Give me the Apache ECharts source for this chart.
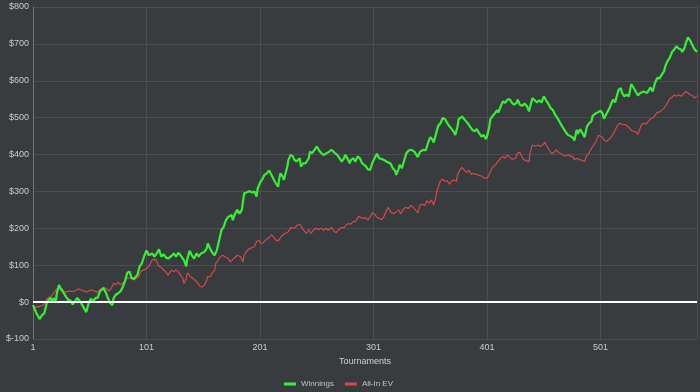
<!DOCTYPE html>
<html>
<head>
<meta charset="utf-8">
<script src="https://cdn.jsdelivr.net/npm/echarts@6/dist/echarts.min.js"></script>
<style>
html,body{margin:0;padding:0;background:#393c3f;}
#chart{width:700px;height:392px;}
</style>
</head>
<body>
<div id="chart"></div>
<script>
// [tournament, dollars]
const winnings = [
[1,-8],[4,-30],[7,-46],[9,-35],[11,-30],[13,-3],[15,6],[16,12],[18,2],[19,11],[21,2],[22,24],[24,47],[25,38],[27,30],[30,15],[32,6],[34,4],[36,-6],[38,2],[40,11],[43,0],[46,-17],[48,-27],[50,-3],[52,9],[54,2],[56,11],[58,12],[60,29],[63,38],[65,27],[67,11],[69,-3],[71,-8],[72,11],[74,20],[76,24],[78,29],[80,40],[82,56],[84,79],[86,83],[88,65],[90,63],[93,74],[95,97],[97,106],[99,125],[101,140],
[103,127],[106,132],[108,123],[110,132],[112,143],[114,123],[116,130],[118,121],[120,118],[123,125],[125,132],[127,123],[129,134],[131,127],[134,114],[136,97],[137,118],[139,139],[141,127],[143,118],[145,132],[147,123],[149,132],[152,136],[154,145],[155,159],[157,145],[159,134],[161,127],[163,141],[165,168],[167,195],[169,204],[171,222],[173,231],[176,236],[177,222],[179,240],[181,250],[183,240],[185,250],[187,295],[189,297],[192,301],[194,297],[196,300],[198,286],[199,309],
[201,324],[203,333],[205,345],[207,349],[209,357],[211,345],[213,333],[215,322],[217,313],[218,336],[219,349],[221,340],[222,331],[225,367],[226,385],[228,399],[230,395],[231,387],[233,381],[236,390],[237,367],[239,376],[241,376],[244,390],[245,408],[247,404],[249,413],[251,422],[253,411],[255,404],[257,399],[258,395],[260,404],[262,408],[264,413],[267,404],[269,399],[271,390],[273,381],[275,390],[276,399],[278,390],[280,376],[281,385],[283,390],[285,381],[287,395],[289,390],[291,376],[294,369],[296,360],[298,358],[300,378],
[302,390],[304,402],[306,390],[307,395],[309,387],[311,384],[314,378],[316,376],[318,363],[320,356],[321,345],[323,360],[324,372],[326,363],[328,384],[330,404],[332,411],[334,413],[337,408],[338,404],[340,393],[342,408],[345,413],[347,411],[349,431],[351,447],[353,440],[354,433],[357,467],[358,478],[360,485],[362,499],[364,496],[366,485],[368,476],[370,469],[372,460],[373,453],[375,476],[376,496],[379,503],[380,508],[382,492],[384,485],[386,476],[388,467],[390,463],[392,469],[394,458],[396,449],[398,453],[400,442],
[401,449],[403,476],[404,496],[406,505],[408,512],[410,520],[411,514],[413,530],[415,544],[417,540],[419,549],[421,550],[423,540],[425,535],[427,540],[428,549],[430,535],[432,532],[434,538],[436,532],[438,517],[439,530],[441,553],[443,547],[445,541],[447,547],[449,541],[451,558],[453,547],[455,538],[457,526],[459,521],[461,508],[464,494],[466,483],[468,472],[470,463],[472,454],[475,449],[477,445],[478,438],[480,467],[481,456],[483,469],[485,458],[487,447],[489,476],[491,485],[493,490],[494,505],[497,512],[499,515],
[501,519],[503,510],[504,497],[507,515],[509,526],[510,535],[512,549],[514,542],[515,555],[517,576],[519,580],[520,567],[522,558],[524,562],[526,558],[528,591],[530,582],[532,571],[534,560],[536,567],[537,562],[539,571],[542,567],[543,562],[545,582],[547,571],[549,594],[551,608],[553,606],[554,612],[557,626],[558,639],[560,653],[562,662],[564,678],[566,685],[568,694],[570,687],[572,685],[573,678],[575,689],[576,700],[578,718],[580,709],[582,696],[584,685],[586,678]
];
const allInEV = [
[1,-8],[3,-15],[5,-12],[7,-12],[10,-8],[12,2],[14,11],[15,6],[17,15],[19,24],[21,33],[24,40],[26,38],[28,30],[30,27],[33,30],[35,29],[38,30],[41,36],[43,33],[46,30],[48,27],[50,30],[52,33],[55,30],[57,27],[59,30],[61,36],[63,40],[66,36],[68,30],[70,38],[72,51],[74,47],[76,54],[78,47],[80,51],[82,58],[84,65],[87,65],[90,60],[92,65],[94,69],[96,83],[99,88],
[101,91],[103,97],[106,114],[107,112],[109,116],[112,97],[114,94],[116,87],[118,82],[120,73],[123,87],[125,82],[127,88],[129,82],[131,73],[133,64],[134,50],[136,64],[137,79],[140,68],[142,64],[144,59],[146,52],[148,43],[150,41],[152,46],[154,59],[155,70],[157,68],[159,79],[161,87],[162,105],[164,114],[166,123],[168,127],[170,123],[173,118],[175,109],[177,116],[179,121],[181,127],[184,123],[186,109],[187,127],[190,141],[192,145],[194,148],[196,150],[198,164],
[200,168],[202,159],[204,161],[206,168],[209,175],[211,182],[213,177],[215,168],[217,166],[219,175],[221,182],[223,186],[226,191],[228,202],[229,206],[231,200],[234,209],[236,211],[238,202],[240,193],[242,186],[244,197],[246,186],[248,195],[250,200],[253,197],[255,200],[257,195],[259,200],[261,195],[264,202],[266,193],[268,188],[270,195],[273,202],[275,202],[277,209],[279,213],[281,211],[283,218],[285,218],[288,233],[290,229],[292,227],[294,229],[296,222],[298,231],[300,242],
[302,238],[304,230],[306,227],[308,224],[310,231],[312,245],[314,257],[316,245],[318,240],[320,242],[323,250],[325,239],[327,250],[329,257],[332,254],[334,263],[336,257],[338,250],[340,242],[342,263],[344,266],[346,261],[348,275],[350,268],[352,277],[354,263],[356,286],[357,304],[358,311],[360,329],[362,333],[364,327],[366,329],[368,320],[370,329],[372,331],[374,327],[375,345],[377,358],[379,365],[381,358],[383,351],[385,358],[387,347],[389,349],[391,347],[393,345],[396,342],[398,338],[400,335],
[402,340],[404,354],[406,366],[409,374],[411,383],[413,390],[415,395],[417,390],[419,399],[421,393],[423,387],[426,390],[428,404],[430,406],[431,399],[433,387],[436,383],[438,381],[439,406],[441,426],[444,423],[446,426],[448,422],[450,426],[452,433],[454,422],[456,411],[458,402],[460,406],[462,413],[464,406],[466,402],[468,399],[470,396],[473,399],[475,395],[477,393],[478,386],[480,390],[482,387],[485,384],[487,381],[489,399],[491,404],[493,417],[495,426],[497,435],[499,452],
[502,449],[504,440],[506,435],[508,440],[510,446],[512,455],[514,467],[516,479],[518,485],[520,482],[523,481],[525,476],[527,470],[529,464],[532,461],[534,455],[535,464],[537,481],[539,485],[541,482],[543,490],[545,497],[547,499],[549,506],[551,515],[553,515],[554,519],[557,526],[559,535],[560,539],[562,551],[564,555],[566,562],[568,558],[570,562],[572,558],[574,564],[576,571],[578,567],[580,562],[582,560],[584,553],[586,560]
];
const firstTournament = 1;
const lastTournament = 586;
const yMin = -100, yMax = 800, yStep = 100;
const seriesNames = ['Winnings', 'All-In EV'];

// x axis runs in (tournament - 1) so ticks fall on 1, 101, 201 ...
const toX = p => [p[0] - firstTournament, p[1]];

const chart = echarts.init(document.getElementById('chart'), null, {renderer: 'canvas'});
const labelFont = {color: '#c9c9c9', fontSize: 9, fontFamily: 'Liberation Sans'};
chart.setOption({
  animation: false,
  backgroundColor: '#393c3f',
  grid: {left: 33, right: 3, top: 7, bottom: 53, containLabel: false},
  legend: {
    data: seriesNames,
    left: 284, top: 380, padding: 0,
    icon: 'rect', itemWidth: 12, itemHeight: 3, itemGap: 11,
    textStyle: {color: '#c0c0c0', fontSize: 8, fontFamily: 'Liberation Sans'}
  },
  xAxis: {
    type: 'value',
    min: 0, max: lastTournament - firstTournament, interval: 100,
    name: 'Tournaments', nameLocation: 'middle', nameGap: 17,
    nameTextStyle: {color: '#d0d0d0', fontSize: 9, fontFamily: 'Liberation Sans'},
    axisLine: {show: true, lineStyle: {color: '#55585b', width: 1}},
    axisTick: {show: true, length: 3, lineStyle: {color: '#55585b'}},
    axisLabel: Object.assign({margin: 4, showMaxLabel: false, formatter: v => String(v + firstTournament)}, labelFont),
    splitLine: {show: true, lineStyle: {color: '#4b4e51', width: 1}}
  },
  yAxis: {
    type: 'value',
    min: yMin, max: yMax, interval: yStep,
    axisLine: {show: true, lineStyle: {color: '#707376', width: 1}},
    axisTick: {show: false},
    axisLabel: Object.assign({margin: 4, formatter: v => '$' + v}, labelFont),
    splitLine: {show: true, lineStyle: {color: '#4b4e51', width: 1}}
  },
  series: [
    {
      name: seriesNames[0], type: 'line', data: winnings.map(toX),
      symbol: 'none', color: '#35f035',
      lineStyle: {width: 2.2, color: '#35f035'}, z: 3,
      markLine: {
        silent: true, symbol: 'none', label: {show: false},
        lineStyle: {color: '#ffffff', width: 2, type: 'solid'},
        data: [{yAxis: 0}]
      }
    },
    {
      name: seriesNames[1], type: 'line', data: allInEV.map(toX),
      symbol: 'none', color: '#d24a4a',
      lineStyle: {width: 1.2, color: '#d24a4a'}, z: 2
    }
  ]
});
</script>
</body>
</html>
